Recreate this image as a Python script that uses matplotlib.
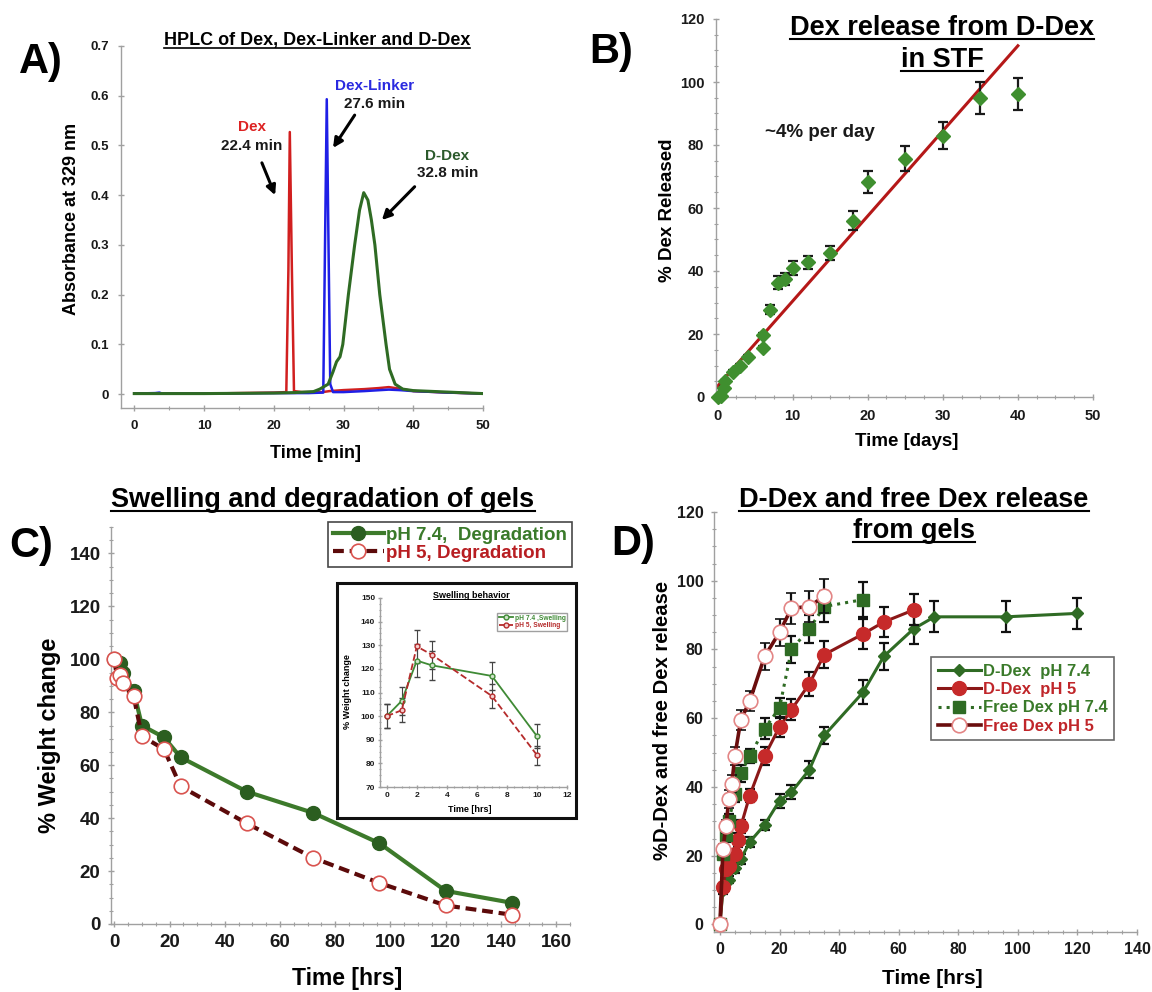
import numpy as np
import matplotlib
matplotlib.use("Agg")
import matplotlib.pyplot as plt
from matplotlib.ticker import MultipleLocator, AutoMinorLocator
from matplotlib.lines import Line2D
from matplotlib.patches import Rectangle

W, H = 1152, 992
plt.rcParams['font.family'] = ['Liberation Sans', 'DejaVu Sans']
plt.rcParams['font.weight'] = 'bold'

# ---------------- data ----------------
# A) HPLC traces (time [min], absorbance)
dex_t = [0, 5, 10, 15, 20, 21.8, 22.1, 22.3, 22.6, 22.9, 24, 27, 28, 30, 33, 35, 36.5, 38, 40, 45, 50]
dex_a = [0.001, 0.001, 0.001, 0.002, 0.003, 0.004, 0.25, 0.527, 0.25, 0.006, 0.004, 0.004, 0.006,
         0.008, 0.010, 0.012, 0.014, 0.011, 0.006, 0.003, 0.001]
link_t = [0, 3, 3.6, 4, 10, 20, 25, 27.1, 27.35, 27.6, 27.85, 28.1, 28.5, 30, 33, 36.5, 38, 40, 45, 50]
link_a = [0.001, 0.002, 0.003, 0.001, 0.001, 0.002, 0.002, 0.003, 0.3, 0.593, 0.3, 0.02, 0.004,
          0.004, 0.006, 0.009, 0.008, 0.006, 0.003, 0.001]
ddex_t = [0, 10, 20, 23, 25.7, 26.6, 27.8, 28.5, 29.0, 29.5, 29.9, 30.7, 31.6, 32.3, 32.9, 33.5,
          34.0, 34.5, 35.2, 36.1, 36.6, 37.4, 38.5, 40, 45, 50]
ddex_a = [0.001, 0.001, 0.002, 0.003, 0.005, 0.01, 0.02, 0.045, 0.065, 0.075, 0.1, 0.2, 0.3, 0.37,
          0.405, 0.39, 0.35, 0.3, 0.2, 0.1, 0.05, 0.02, 0.01, 0.007, 0.004, 0.001]

# B) Dex release from D-Dex in STF
rel_t = [0, 0.4, 0.8, 1, 2, 3, 4, 6, 6, 7, 8, 9, 10, 12, 15, 18, 20, 25, 30, 35, 40]
rel_y = [0, 0.3, 3, 5, 8, 10, 12.8, 15.7, 19.7, 27.7, 36.3, 37.5, 40.9, 42.8, 45.7, 56, 68.2,
         75.7, 83, 94.9, 96.2]
rel_err = [0, 0, 0.5, 0.5, 0.5, 0.5, 0.5, 0.5, 0.5, 1.5, 2, 1.9, 2.3, 2.1, 2.2, 3, 3.5, 4.1, 4.4, 5, 5]
fit_t = [0, 40]
fit_y = [3.4, 111.5]

# C) degradation
deg74_t = [0, 2, 3, 7, 10, 18, 24, 48, 72, 96, 120, 144]
deg74_y = [100, 98.5, 95, 88, 75, 70.5, 63, 50, 42, 30.5, 12.5, 8]
deg5_t = [0, 1, 2, 3, 7, 10, 18, 24, 48, 72, 96, 120, 144]
deg5_y = [100, 93, 94, 91, 86, 71, 66, 52, 38, 25, 15.5, 7, 3.5]

# C inset) swelling
sw_t = [0, 1, 2, 3, 7, 10]
sw74_y = [100, 106.5, 123.5, 121.5, 117, 91.5]
sw74_err = [5, 6, 7, 6, 6, 5]
sw5_y = [100, 102.5, 129.5, 126, 108.5, 83.5]
sw5_err = [5, 5, 7, 6, 5, 4]

# D) release from gels
dd74_t = [0, 1, 3, 5, 7, 10, 15, 20, 24, 30, 35, 48, 55, 65, 72, 96, 120]
dd74_y = [0, 10, 13, 16.5, 19, 24, 29, 36, 38.5, 45, 55, 67.5, 78, 86, 89.5, 89.5, 90.5]
dd74_err = [0, 1, 1, 1.5, 1.5, 1.5, 1.5, 2, 2, 2.5, 2.5, 3.5, 4, 4.5, 4.5, 4.5, 4.5]
dd5_t = [0, 1, 2, 3, 5, 6, 7, 10, 15, 20, 24, 30, 35, 48, 55, 65]
dd5_y = [0, 11, 16, 17, 20.5, 24.5, 28.5, 37.5, 49, 57.5, 62.5, 70, 78.5, 84.5, 88, 91.5]
dd5_err = [0, 1, 1.5, 1.5, 1.5, 2, 2, 2, 2.5, 3, 3, 3.5, 4, 4.5, 4.5, 4.5]
fd74_t = [0, 1, 2, 3, 5, 7, 10, 15, 20, 24, 30, 35, 48]
fd74_y = [0, 20.5, 26, 30, 38, 44, 49, 57, 63, 80, 86, 92.5, 94.5]
fd74_err = [0, 1.5, 2, 2, 2.5, 2.5, 2, 3, 3, 4, 4, 4.5, 5]
fd5_t = [0, 1, 2, 3, 4, 5, 7, 10, 15, 20, 24, 30, 35]
fd5_y = [0, 22, 28.5, 36.5, 41, 49, 59.5, 65, 78, 85, 92, 92.5, 95.5]
fd5_err = [0, 1.5, 2, 2.5, 2.5, 2.5, 3, 3, 4, 4, 4.5, 4.5, 5]

GREEN = '#2f6b24'
LGREEN = '#3f8f2f'
RED = '#c62a2a'
MAROON = '#6a0d0d'
AXC = '#a0a0a0'

fig = plt.figure(figsize=(W / 100, H / 100), dpi=100)


def box(l, t, r, b):
    return [l / W, 1 - b / H, (r - l) / W, (b - t) / H]


def ftext(x, y, s, size, **kw):
    return fig.text(x / W, 1 - y / H, s, fontsize=size, fontweight='bold', **kw)


def style(ax, size, pad=4):
    for s in ['top', 'right']:
        ax.spines[s].set_visible(False)
    for s in ['left', 'bottom']:
        ax.spines[s].set_color(AXC)
        ax.spines[s].set_linewidth(1.0)
    ax.tick_params(which='both', color=AXC, labelcolor='#1a1a1a', labelsize=size,
                   direction='inout', pad=pad)
    ax.tick_params(which='major', length=5, width=1)
    ax.tick_params(which='minor', length=3, width=0.8)
    for lab in ax.get_xticklabels() + ax.get_yticklabels():
        lab.set_fontweight('bold')


underlined = []


def utitle(x, base, s, size, lw=1.5, color='k'):
    t = ftext(x, base, s, size, ha='center', va='baseline', color=color)
    underlined.append((t, base, lw, size))
    return t


# ---------------- A ----------------
axA = fig.add_axes(box(121, 46, 483, 408))
axA.plot(dex_t, dex_a, color='#d11f1f', lw=1.8)
axA.plot(link_t, link_a, color='#1f1fe6', lw=1.8)
axA.plot(ddex_t, ddex_a, color=GREEN, lw=2.2)
axA.set_xlim(-1.9, 50)
axA.set_ylim(-0.028, 0.7)
axA.xaxis.set_major_locator(MultipleLocator(10))
axA.yaxis.set_major_locator(MultipleLocator(0.1))
axA.yaxis.set_major_formatter(plt.FuncFormatter(lambda v, p: '0' if abs(v) < 1e-9 else f'{v:.1f}'))
axA.xaxis.set_minor_locator(AutoMinorLocator(2))
style(axA, 9.5, pad=6)
axA.text(16.9, 0.537, 'Dex', color='#dd2222', fontsize=11, ha='center', va='center', fontweight='bold')
axA.text(16.9, 0.499, '22.4 min', color='#1a1a1a', fontsize=11, ha='center', va='center', fontweight='bold')
axA.text(34.5, 0.620, 'Dex-Linker', color='#2a2ae0', fontsize=11, ha='center', va='center', fontweight='bold')
axA.text(34.5, 0.584, '27.6 min', color='#1a1a1a', fontsize=11, ha='center', va='center', fontweight='bold')
axA.text(44.9, 0.479, 'D-Dex', color='#2c5a2c', fontsize=11, ha='center', va='center', fontweight='bold')
axA.text(44.9, 0.445, '32.8 min', color='#1a1a1a', fontsize=11, ha='center', va='center', fontweight='bold')
for (x0, y0), (x1, y1) in [((18.3, 0.465), (20.2, 0.400)), ((31.6, 0.561), (28.5, 0.495)),
                           ((40.2, 0.417), (35.5, 0.350))]:
    axA.annotate('', xy=(x1, y1), xytext=(x0, y0),
                 arrowprops=dict(arrowstyle='-|>', lw=2.2, color='k', mutation_scale=14,
                                 shrinkA=0, shrinkB=0))
utitle(317, 45, 'HPLC of Dex, Dex-Linker and D-Dex', 13, lw=1.2)
ftext(72, 219, 'Absorbance at 329 nm', 13, rotation=90, ha='center', va='center')
ftext(315, 453, 'Time [min]', 13, ha='center', va='center')
ftext(19, 73, 'A)', 30, ha='left', va='baseline')

# ---------------- B ----------------
axB = fig.add_axes(box(716, 19, 1093, 397))
axB.plot(fit_t, fit_y, color='#b51818', lw=2.2, zorder=2)
axB.errorbar(rel_t, rel_y, yerr=rel_err, fmt='D', color=LGREEN, ms=7.5, ecolor='#1a1a1a',
             elinewidth=1.6, capsize=3.5, capthick=1.6, clip_on=False, zorder=3)
axB.set_xlim(-0.2, 50)
axB.set_ylim(0, 120)
axB.xaxis.set_major_locator(MultipleLocator(10))
axB.yaxis.set_major_locator(MultipleLocator(20))
axB.xaxis.set_minor_locator(AutoMinorLocator(4))
axB.yaxis.set_minor_locator(AutoMinorLocator(4))
style(axB, 10.5, pad=6)
axB.text(6.3, 83.9, '~4% per day', fontsize=13.5, ha='left', va='center', fontweight='bold', color='#1a1a1a')
utitle(942, 35, 'Dex release from D-Dex', 19.5)
utitle(942, 67, 'in STF', 19.5)
ftext(668, 210, '% Dex Released', 13.5, rotation=90, ha='center', va='center')
ftext(907, 442, 'Time [days]', 13.5, ha='center', va='center')
ftext(589, 63, 'B)', 30, ha='left', va='baseline')

# ---------------- C ----------------
axC = fig.add_axes(box(111, 527, 570, 924))
l74, = axC.plot(deg74_t, deg74_y, '-o', color='#3d7a2b', mfc='#2b5e20', mec='#2b5e20', ms=10,
                lw=3, clip_on=False, zorder=3)
l5, = axC.plot(deg5_t, deg5_y, '--o', color='#5c0a0a', mfc='white', mec='#d9534f', mew=1.2,
               ms=10.5, lw=3, dashes=(2.6, 1.4), clip_on=False, zorder=4)
axC.set_xlim(-1.2, 165)
axC.set_ylim(0, 150)
axC.xaxis.set_major_locator(MultipleLocator(20))
axC.set_yticks(np.arange(0, 141, 20))
axC.xaxis.set_minor_locator(MultipleLocator(5))
axC.yaxis.set_minor_locator(MultipleLocator(5))
style(axC, 13.5, pad=5)
legC = axC.legend([l74, l5], ['pH 7.4,  Degradation', 'pH 5, Degradation'], loc='upper right',
                  bbox_to_anchor=((572 - 111) / (570 - 111), 1 + (527 - 522) / (924 - 527)),
                  fontsize=13.5, frameon=True, fancybox=False, edgecolor='#1a1a1a',
                  handlelength=2.7, handletextpad=0.15, borderpad=0.25, labelspacing=0.05,
                  borderaxespad=0)
legC.get_frame().set_linewidth(1.2)
for txt, c in zip(legC.get_texts(), ['#3a7a2a', '#b81e22']):
    txt.set_color(c)
    txt.set_fontweight('bold')
utitle(323, 507, 'Swelling and degradation of gels', 19.5)
ftext(50, 735, '% Weight change', 17, rotation=90, ha='center', va='center')
ftext(347, 978, 'Time [hrs]', 16.5, ha='center', va='center')
ftext(9, 557, 'C)', 30, ha='left', va='baseline')

# inset frame and axes
frame = Rectangle((337 / W, 1 - 818 / H), (576 - 337) / W, (818 - 583) / H, transform=fig.transFigure,
                  facecolor='white', edgecolor='#111111', lw=2.2, zorder=5)
fig.add_artist(frame)
axI = fig.add_axes(box(380, 598, 567, 787), zorder=6)
axI.patch.set_alpha(0)
s74 = axI.errorbar(sw_t, sw74_y, yerr=sw74_err, fmt='-o', color='#3f8a35', mfc='#cfe3c8', mec='#3f8a35',
                   ms=3.5, lw=1.3, ecolor='#444444', elinewidth=0.8, capsize=2)
s5 = axI.errorbar(sw_t, sw5_y, yerr=sw5_err, fmt='--o', color='#b52b2b', mfc='#f3d0d0', mec='#b52b2b',
                  ms=3.5, lw=1.3, ecolor='#444444', elinewidth=0.8, capsize=2)
axI.set_xlim(-0.45, 12)
axI.set_ylim(70, 150)
axI.xaxis.set_major_locator(MultipleLocator(2))
axI.yaxis.set_major_locator(MultipleLocator(10))
axI.xaxis.set_minor_locator(MultipleLocator(0.5))
axI.yaxis.set_minor_locator(MultipleLocator(2.5))
style(axI, 6, pad=2)
axI.tick_params(which='major', length=3)
axI.tick_params(which='minor', length=1.5)
legI = axI.legend([s74[0], s5[0]], ['pH 7.4 ,Swelling', 'pH 5, Swelling'], loc='upper right',
                  bbox_to_anchor=(1.02, 0.94), fontsize=4.8, frameon=True,
                  fancybox=False, edgecolor='#888888', handlelength=2.0, borderpad=0.3,
                  labelspacing=0.1, handletextpad=0.3)
for txt, c in zip(legI.get_texts(), ['#3f8a35', '#b52b2b']):
    txt.set_color(c)
    txt.set_fontweight('bold')
utitle(471, 598, 'Swelling behavior', 6.5, lw=0.7)
underlined[-1][0].set_zorder(7)
ftext(348, 692, '% Weight change', 6.5, rotation=90, ha='center', va='center', zorder=7)
ftext(470, 809, 'Time [hrs]', 6.5, ha='center', va='center', zorder=7)

# ---------------- D ----------------
axD = fig.add_axes(box(714, 512, 1137, 932))
ekw = dict(ecolor='#111111', elinewidth=1.6, capsize=3.5, capthick=1.6, clip_on=False)
hd74 = axD.errorbar(dd74_t, dd74_y, yerr=dd74_err, fmt='-D', color=GREEN, ms=6.5, lw=2.2, zorder=3, **ekw)
hd5 = axD.errorbar(dd5_t, dd5_y, yerr=dd5_err, fmt='-o', color='#8b1818', mfc=RED, mec=RED, ms=10,
                   lw=2.2, zorder=4, **ekw)
hf74 = axD.errorbar(fd74_t, fd74_y, yerr=fd74_err, fmt=':s', color=GREEN, ms=9, lw=2.2, zorder=5, **ekw)
hf5 = axD.errorbar(fd5_t, fd5_y, yerr=fd5_err, fmt='-o', color=MAROON, mfc='white', mec='#e38585',
                   mew=1.2, ms=10.5, lw=2.6, zorder=6, **ekw)
axD.set_xlim(-2, 140)
axD.set_ylim(-2.2, 120)
axD.xaxis.set_major_locator(MultipleLocator(20))
axD.yaxis.set_major_locator(MultipleLocator(20))
axD.xaxis.set_minor_locator(MultipleLocator(5))
axD.yaxis.set_minor_locator(MultipleLocator(5))
style(axD, 11.5, pad=5)
legD = axD.legend([hd74[0], hd5[0], hf74[0], hf5[0]],
                  ['D-Dex  pH 7.4', 'D-Dex  pH 5', 'Free Dex pH 7.4', 'Free Dex pH 5'],
                  loc='upper left', bbox_to_anchor=((931 - 714) / (1137 - 714), 1 - (657 - 512) / (932 - 512)),
                  fontsize=12, frameon=True, fancybox=False, edgecolor='#444444', handlelength=2.6,
                  handletextpad=0.1, borderpad=0.4, labelspacing=0.2, borderaxespad=0)
legD.get_frame().set_linewidth(1.2)
for txt, c in zip(legD.get_texts(), ['#3a7a2a', '#c0262a', '#3a7a2a', '#c0262a']):
    txt.set_color(c)
    txt.set_fontweight('bold')
utitle(914, 507, 'D-Dex and free Dex release', 19.5)
utitle(914, 538, 'from gels', 19.5)
ftext(663, 720, '%D-Dex and free Dex release', 14.6, rotation=90, ha='center', va='center')
ftext(932, 978, 'Time [hrs]', 15, ha='center', va='center')
ftext(611, 555, 'D)', 30, ha='left', va='baseline')

# underlines under the titles
fig.canvas.draw()
rend = fig.canvas.get_renderer()
for t, base, lw, size in underlined:
    bb = t.get_window_extent(rend)
    y = base + size * 0.2
    ln = Line2D([bb.x0 / W, bb.x1 / W], [1 - y / H] * 2, transform=fig.transFigure, color='k', lw=lw,
                zorder=t.get_zorder())
    fig.add_artist(ln)

fig.savefig('out.png', dpi=100)
